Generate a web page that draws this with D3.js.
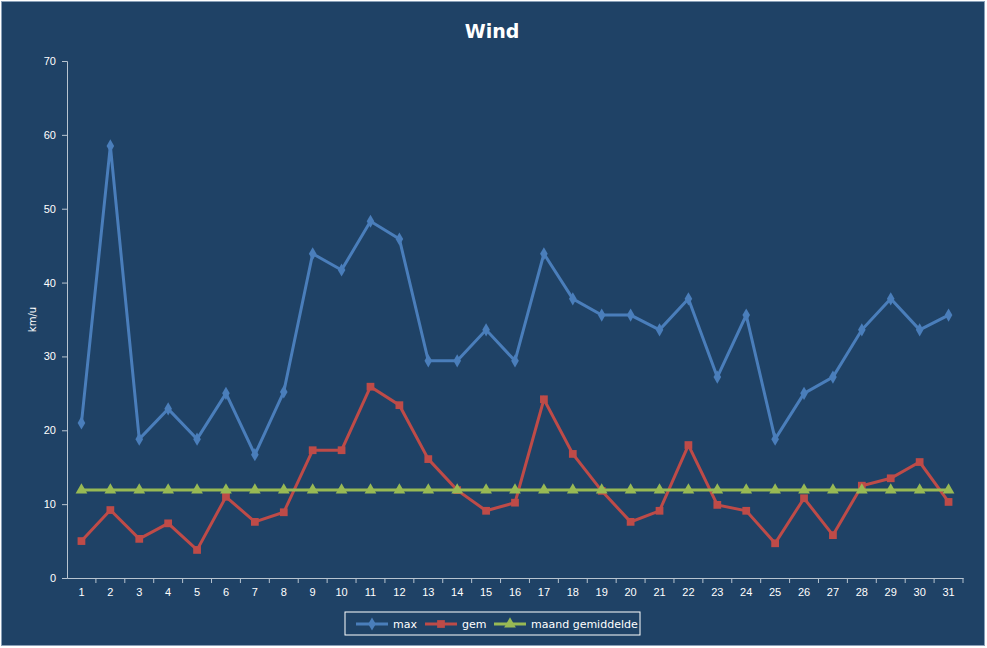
<!DOCTYPE html>
<html><head><meta charset="utf-8">
<script src="https://cdn.jsdelivr.net/npm/d3@7"></script>
<style>body{margin:0;background:#fff;font-family:"DejaVu Sans",sans-serif}</style>
</head><body><svg id="c" width="987" height="648"></svg>
<script>
const days = d3.range(1, 32);
const maxWind = [21.0,58.5,18.8,22.9,18.8,25.0,16.7,25.2,43.9,41.7,48.3,45.9,29.4,29.4,33.6,29.4,43.9,37.8,35.6,35.6,33.6,37.8,27.2,35.6,18.8,25.0,27.2,33.6,37.8,33.6,35.6];
const gemWind = [5.0,9.2,5.3,7.4,3.8,11.0,7.6,8.9,17.3,17.3,25.9,23.4,16.1,11.9,9.1,10.2,24.2,16.8,11.8,7.6,9.1,18.0,9.9,9.1,4.7,10.8,5.8,12.5,13.5,15.7,10.3];
const maandGem = days.map(() => 11.9);
const yTicks = [0,10,20,30,40,50,60,70];

const svg = d3.select("#c");
svg.append("rect").attr("x",1.5).attr("y",1.5).attr("width",983).attr("height",644)
  .attr("fill","#1f4266").attr("stroke","#8aa0b8");
svg.append("text").attr("x",492).attr("y",38).attr("text-anchor","middle")
  .attr("fill","#fff").attr("font-size",19).attr("font-weight","bold").text("Wind");

const pLeft = 67, pRight = 963, pTop = 61, pBottom = 578;
const x = d3.scaleBand().domain(days).range([pLeft, pRight]);
const y = d3.scaleLinear().domain([0,70]).range([pBottom, pTop]);

const gx = svg.append("g").attr("transform",`translate(0,${pBottom})`)
  .call(d3.axisBottom(x).tickSize(0).tickPadding(10));
const gy = svg.append("g").attr("transform",`translate(${pLeft},0)`)
  .call(d3.axisLeft(y).tickValues(yTicks).tickSize(5).tickPadding(6));
[gx, gy].forEach(g => {
  g.selectAll("path,line").attr("stroke","#b8c4d0");
  g.selectAll("text").attr("fill","#fff").attr("font-size",11);
});
gx.selectAll(".tick").append("line").attr("x1",x.bandwidth()/2).attr("x2",x.bandwidth()/2)
  .attr("y1",0).attr("y2",5).attr("stroke","#b8c4d0");
svg.append("text").attr("transform",`translate(36,${(pTop+pBottom)/2}) rotate(-90)`)
  .attr("text-anchor","middle").attr("fill","#fff").attr("font-size",10).text("km/u");

const cx = d => x(d) + x.bandwidth()/2;
const series = [
  {name:"max", vals:maxWind, color:"#4a7ebb", marker:"diamond"},
  {name:"gem", vals:gemWind, color:"#be4b48", marker:"square"},
  {name:"maand gemiddelde", vals:maandGem, color:"#98b954", marker:"triangle"}
];
const sym = {diamond:d3.symbolDiamond, square:d3.symbolSquare, triangle:d3.symbolTriangle};
const sz = {diamond:50, square:60, triangle:60};
const line = d3.line().x((v,i) => cx(days[i])).y(v => y(v));
series.forEach(s => {
  svg.append("path").attr("d", line(s.vals)).attr("fill","none")
    .attr("stroke", s.color).attr("stroke-width", 3);
  svg.append("g").selectAll("path").data(s.vals).join("path")
    .attr("transform",(v,i) => `translate(${cx(days[i])},${y(v)})`)
    .attr("d", d3.symbol(sym[s.marker], sz[s.marker])).attr("fill", s.color);
});

// legend
const lg = svg.append("g");
lg.append("rect").attr("x",345).attr("y",612).attr("width",295).attr("height",23)
  .attr("fill","none").attr("stroke","#fff");
const lx = [356, 425, 494];
series.forEach((s,i) => {
  const g = lg.append("g").attr("transform",`translate(${lx[i]},624)`);
  g.append("line").attr("x1",0).attr("x2",32).attr("stroke",s.color).attr("stroke-width",3);
  g.append("path").attr("transform","translate(16,0)").attr("d", d3.symbol(sym[s.marker], sz[s.marker])).attr("fill",s.color);
  g.append("text").attr("x",37).attr("y",4).attr("fill","#fff").attr("font-size",11).text(s.name);
});
</script></body></html>
